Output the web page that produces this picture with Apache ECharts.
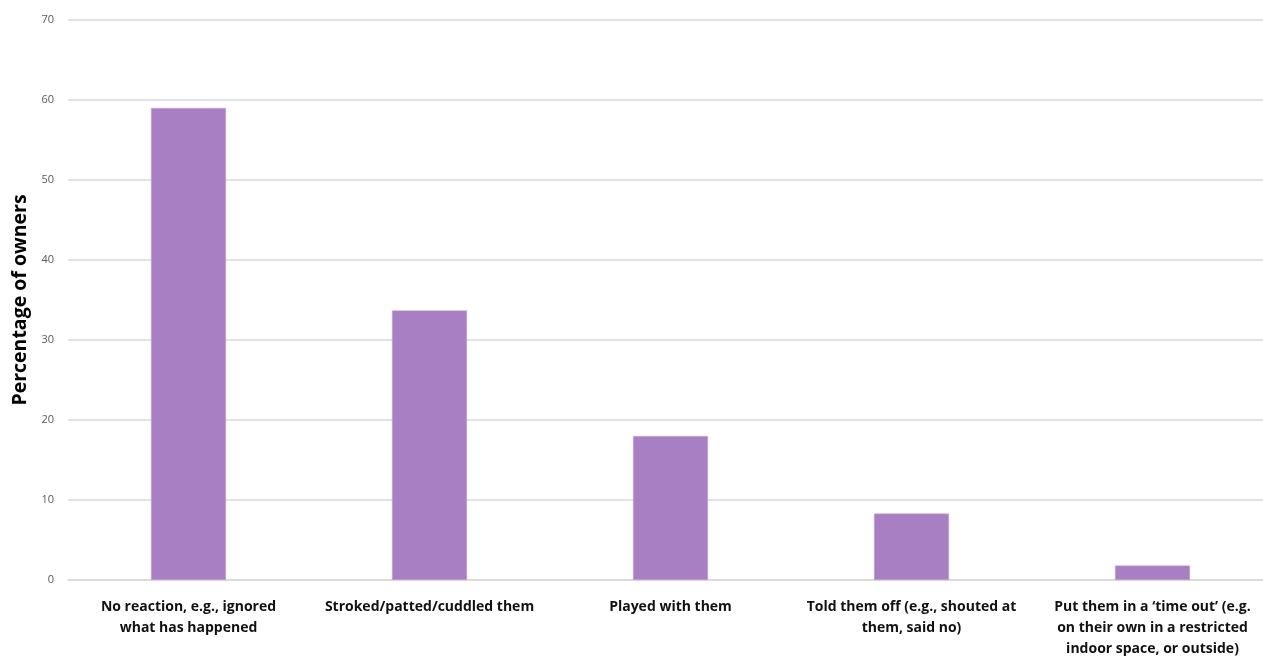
<!DOCTYPE html>
<html>
<head>
<meta charset="utf-8">
<script src="https://cdn.jsdelivr.net/npm/echarts@6/dist/echarts.min.js"></script>
<style>
html,body{margin:0;padding:0;background:#fff;overflow:hidden;}
#chart{width:1263px;height:659px;}
</style>
</head>
<body>
<div id="chart"></div>
<script>
const categories = [
  "No reaction, e.g., ignored\nwhat has happened",
  "Stroked/patted/cuddled them",
  "Played with them",
  "Told them off (e.g., shouted at\nthem, said no)",
  "Put them in a \u2018time out\u2019 (e.g.\non their own in a restricted\nindoor space, or outside)"
];
const values = [59.0, 33.7, 18.0, 8.3, 1.8];
const yAxisName = "Percentage of owners";

const chart = echarts.init(document.getElementById('chart'));
chart.setOption({
  animation: false,
  backgroundColor: '#ffffff',
  grid: { left: 68, width: 1205, top: 20, bottom: 79, containLabel: false, outerBoundsMode: 'none' },
  xAxis: {
    type: 'category',
    data: categories,
    axisLine: { show: true, lineStyle: { color: '#d9d9d9', width: 1.5 } },
    axisTick: { show: false },
    axisLabel: {
      interval: 0,
      margin: 17,
      fontFamily: '"Open Sans", Lato, sans-serif',
      fontWeight: 'bold',
      fontSize: 14,
      lineHeight: 21,
      color: '#111111',
      align: 'center'
    }
  },
  yAxis: {
    type: 'value',
    min: 0,
    max: 70,
    interval: 10,
    name: yAxisName,
    nameLocation: 'middle',
    nameGap: 37,
    nameTextStyle: {
      fontFamily: '"Open Sans", Lato, sans-serif',
      fontWeight: 'bold',
      fontSize: 19.5,
      color: '#000000'
    },
    axisLine: { show: false },
    axisTick: { show: false },
    axisLabel: {
      margin: 14,
      fontFamily: '"Open Sans", Lato, sans-serif',
      fontSize: 11,
      color: '#595959'
    },
    splitLine: { lineStyle: { color: '#d9d9d9', width: 1.5 } }
  },
  series: [{
    type: 'bar',
    data: values,
    barWidth: 75,
    itemStyle: { color: '#a97fc4', borderColor: '#c5a6da', borderWidth: 0.5 }
  }]
});
</script>
</body>
</html>
